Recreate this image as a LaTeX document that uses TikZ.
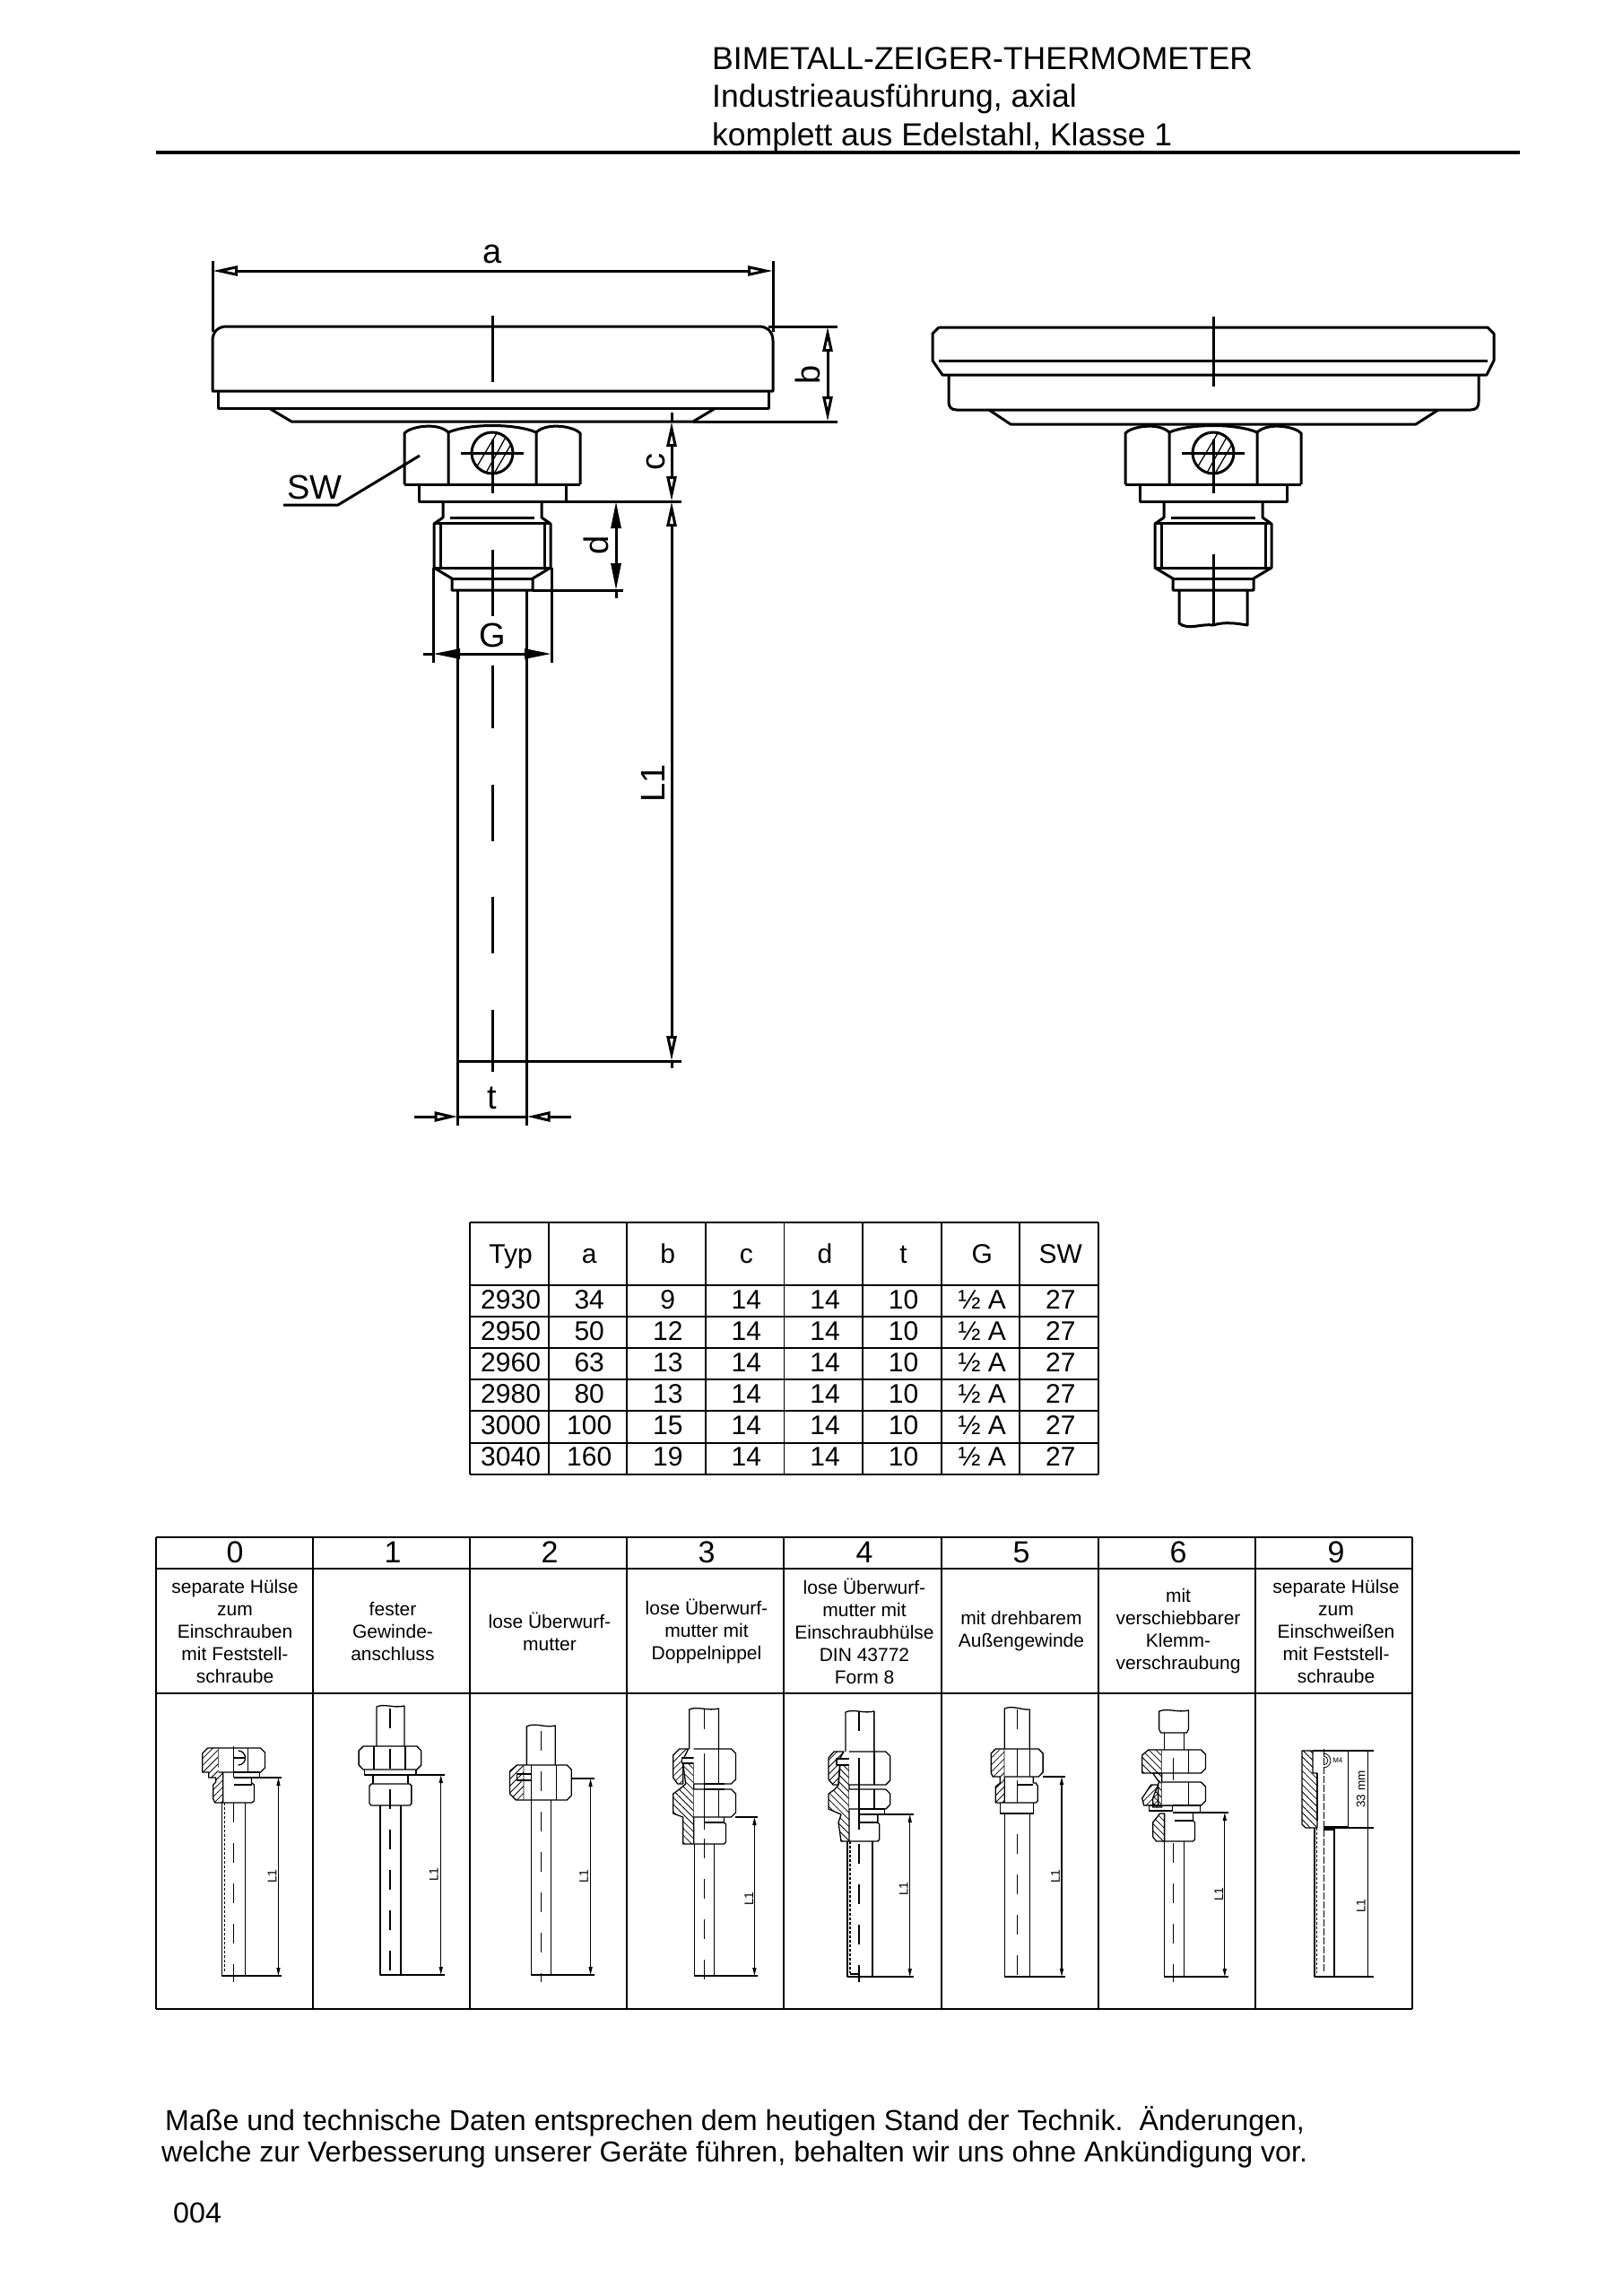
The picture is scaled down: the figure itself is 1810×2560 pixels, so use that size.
\documentclass[tikz,border=0pt]{standalone}
\usepackage{fontspec}
\setmainfont{Liberation Sans}
\usetikzlibrary{arrows.meta,patterns.meta}
\tikzstyle{none}=[inner sep=0pt]
\tikzstyle{title}=[inner sep=0pt,anchor=base west,font=\fontsize{35.5}{35.5}\selectfont]
\tikzstyle{foot}=[inner sep=0pt,anchor=base west,font=\fontsize{32.2}{32.2}\selectfont]
\tikzstyle{dimlabel}=[inner sep=0pt,font=\fontsize{38}{38}\selectfont]
\tikzstyle{cell}=[inner sep=0pt,anchor=base,font=\fontsize{30}{30}\selectfont]
\tikzstyle{digit}=[inner sep=0pt,font=\fontsize{34}{34}\selectfont]
\tikzstyle{caption}=[inner sep=0pt,align=center,font=\fontsize{21}{25}\selectfont]
\tikzstyle{tiny}=[inner sep=0pt,rotate=90,font=\fontsize{14}{14}\selectfont]
\tikzstyle{heavy}=[line width=3pt,line join=round]
\tikzstyle{fine}=[line width=1.3pt,line join=round]
\tikzstyle{gridline}=[line width=1.8pt]
\tikzstyle{dimopen}=[heavy,{Triangle[open,length=28pt,width=11pt]}-{Triangle[open,length=28pt,width=11pt]}]
\tikzstyle{dimfull}=[heavy,{Triangle[length=30pt,width=11pt]}-{Triangle[length=30pt,width=11pt]}]
\tikzstyle{dimtiny}=[fine,{Triangle[length=9pt,width=4pt]}-{Triangle[length=9pt,width=4pt]}]
\tikzstyle{axis}=[fine,dash pattern=on 22pt off 23pt]
\tikzstyle{hatchne}=[fine,pattern={Lines[angle=45,distance=5.5pt,line width=.8pt]}]
\tikzstyle{hatchnw}=[fine,pattern={Lines[angle=-45,distance=5.5pt,line width=.8pt]}]
\newcommand{\nutright}[5]{%
	\draw[fine,fill=white] (#1,#4) -- (#3-5,#4) -- (#3,#4+5) -- (#3,#5-5) -- (#3-5,#5) -- (#1,#5);
	\draw[fine] (#2,#4) -- (#2,#5);
}
\newcommand{\dimcell}[5]{%
	\draw[dimtiny] (#1,#2) -- (#1,#3);
	\draw[fine] (#4,#2) -- (#1+4,#2);
	\draw[fine] (#5,#3) -- (#1+4,#3);
}
\tikzset{
	headpic/.pic={
		\draw[heavy] (-98,540) -- (-98,483) .. controls (-92,476) and (-62,470) .. (-49,482) -- (-49,540);
		\draw[heavy] (98,540) -- (98,483) .. controls (92,476) and (62,470) .. (49,482) -- (49,540);
		\draw[heavy] (-49,482) .. controls (-25,472) and (25,472) .. (49,482);
		\draw[heavy] (-98,540) -- (98,540);
		\draw[heavy] (-82,540) -- (-82,559) -- (82,559) -- (82,540);
		\draw[heavy] (-55,559) -- (-55,577) -- (-65,584) -- (-65,633) -- (-45,645) -- (-45,658) -- (45,658) -- (45,645) -- (65,633) -- (65,584) -- (55,577) -- (55,559);
		\draw[heavy] (-47,577) -- (47,577);
		\draw[heavy] (-65,583) -- (65,583);
		\draw[heavy] (-65,633) -- (65,633);
		\draw[heavy] (-45,645) -- (45,645);
		\draw[heavy] (-58,584) -- (-58,633);
		\draw[heavy] (58,584) -- (58,633);
		\draw[heavy] (0,505) ellipse (23 and 23);
		\begin{scope}
			\clip (0,505) ellipse (23 and 23);
			\draw[fine] (-8,529) -- (18,482);
			\draw[fine] (-17,520) -- (8,478);
			\draw[fine] (-2,535) -- (24,490);
		\end{scope}
		\draw[heavy] (-35,505) -- (35,505);
		\draw[heavy] (0,490) -- (0,550);
	}
}
\begin{document}
\begin{tikzpicture}[x=1pt,y=-1pt]
	\useasboundingbox (0,0) rectangle (1810,2560);
	\fill[white] (0,0) rectangle (1810,2560);
	\node [style=title] (title1) at (794,77) {BIMETALL-ZEIGER-THERMOMETER};
	\node [style=title] (title2) at (794,119) {Industrieausführung, axial};
	\node [style=title] (title3) at (794,162) {komplett aus Edelstahl, Klasse 1};
	\draw[line width=3.2pt] (174,170) -- (1695,170);

	\draw[heavy] (237,436) -- (237,380) .. controls (237,370) and (243,364) .. (253,364) -- (846,364) .. controls (856,364) and (862,370) .. (862,380) -- (862,436) -- cycle;
	\draw[heavy] (243.5,436) -- (243.5,455) -- (857,455) -- (857,436);
	\draw[heavy] (300,455) -- (325,470) -- (773,470) -- (798,455);
	\draw[heavy] (549,352) -- (549,426);
	\draw[heavy] (237,291) -- (237,370);
	\draw[heavy] (862,291) -- (862,370);
	\draw[dimopen] (237,302) -- (862,302);
	\node [style=dimlabel] (labela) at (549,283) {a};
	\draw[heavy] (857,364) -- (934,364);
	\draw[heavy] (773,470) -- (934,470);
	\draw[dimopen] (923,364) -- (923,470);
	\node [style=dimlabel,rotate=90] (labelb) at (901,418) {b};
	\pic at (549,0) {headpic};
	\draw[heavy] (468,508) -- (377,563) -- (316,563);
	\node [style=dimlabel] (labelsw) at (351,543) {SW};
	\draw[heavy] (631,559) -- (760,559);
	\draw[heavy] (749,460) -- (749,470);
	\draw[dimopen] (749,470) -- (749,559);
	\node [style=dimlabel,rotate=90] (labelc) at (731,515) {c};
	\draw[dimopen] (749,559) -- (749,1183);
	\draw[heavy] (749,1183) -- (749,1191);
	\node [style=dimlabel,rotate=90] (labell) at (728,873) {L1};
	\draw[heavy] (594,658) -- (695,658);
	\draw[dimfull] (687,559) -- (687,658);
	\draw[heavy] (687,658) -- (687,667);
	\node [style=dimlabel,rotate=90] (labeld) at (665,608) {d};
	\draw[heavy] (510.5,658) -- (510.5,1255);
	\draw[heavy] (587.5,658) -- (587.5,1255);
	\draw[heavy] (510.5,1183) -- (760,1183);
	\draw[heavy] (483,633) -- (483,739);
	\draw[heavy] (615,633) -- (615,739);
	\draw[dimfull] (483,729) -- (615,729);
	\draw[heavy] (472,729) -- (483,729);
	\node [style=dimlabel] (labelg) at (549,708) {G};
	\draw[heavy] (510.5,1245) -- (587.5,1245);
	\draw[heavy,-{Triangle[open,length=26pt,width=11pt]}] (462,1245) -- (510.5,1245);
	\draw[heavy,-{Triangle[open,length=26pt,width=11pt]}] (637,1245) -- (587.5,1245);
	\node [style=dimlabel] (labelt) at (549,1224) {t};
	\foreach \ya/\yb in {613/687,742/812,875/938,1000/1063,1126/1195}
		\draw[heavy] (549,\ya) -- (549,\yb);

	\draw[heavy] (1047,365) -- (1659,365) -- (1666,372) -- (1666,402) -- (1658,418) -- (1051,418) -- (1040,402) -- (1040,372) -- (1047,365);
	\draw[heavy] (1047,402) -- (1659,402);
	\draw[heavy] (1058,418) -- (1058,448) .. controls (1058,454) and (1061,457) .. (1067,457) -- (1640,457) .. controls (1646,457) and (1649,454) .. (1649,448) -- (1649,418);
	\draw[heavy] (1103,457) -- (1127,473) -- (1579,473) -- (1604,457);
	\draw[heavy] (1353,353) -- (1353,431);
	\pic at (1353,0) {headpic};
	\draw[heavy] (1315,658) -- (1315,695) .. controls (1325,703) and (1340,695) .. (1353,697) .. controls (1365,693) and (1380,695) .. (1391,697) -- (1391,658);
	\draw[heavy] (1353,618) -- (1353,697);

	\foreach \x in {524,611.6,699.2,787,874.5,962,1049.7,1137.3,1225}
		\draw[gridline] (\x,1363) -- (\x,1644);
	\foreach \y in {1363,1433,1468,1503,1538,1573,1609,1644}
		\draw[gridline] (524,\y) -- (1225,\y);
	\foreach \t [count=\c] in {Typ,a,b,c,d,t,G,SW}
		\node [style=cell] (head\c) at (482+87.6*\c,1408) {\t};
	\foreach \r [count=\j] in {{2930,34,9,14,14,10,½ A,27},{2950,50,12,14,14,10,½ A,27},{2960,63,13,14,14,10,½ A,27},{2980,80,13,14,14,10,½ A,27},{3000,100,15,14,14,10,½ A,27},{3040,160,19,14,14,10,½ A,27}}
		\foreach \t [count=\c] in \r
			\node [style=cell] (row\j col\c) at (482+87.6*\c,1424+35.1*\j) {\t};

	\foreach \x in {174,349,524,699,874,1050,1225,1400,1575}
		\draw[gridline] (\x,1714) -- (\x,2240);
	\foreach \y in {1714,1749,1888,2240}
		\draw[gridline] (174,\y) -- (1575,\y);
	\foreach \t/\x in {0/262,1/438,2/613,3/788,4/964,5/1139,6/1314,9/1490}
		\node [style=digit] (num\t) at (\x,1731) {\t};
	\node [style=caption] (cap0) at (262,1819) {separate Hülse\\zum\\Einschrauben\\mit Feststell-\\schraube};
	\node [style=caption] (cap1) at (438,1819) {fester\\Gewinde-\\anschluss};
	\node [style=caption] (cap2) at (613,1819) {lose Überwurf-\\mutter};
	\node [style=caption] (cap3) at (788,1819) {lose Überwurf-\\mutter mit\\Doppelnippel};
	\node [style=caption] (cap4) at (964,1819) {lose Überwurf-\\mutter mit\\Einschraubhülse\\DIN 43772\\Form 8};
	\node [style=caption] (cap5) at (1139,1819) {mit drehbarem\\Außengewinde};
	\node [style=caption] (cap6) at (1314,1819) {mit\\verschiebbarer\\Klemm-\\verschraubung};
	\node [style=caption] (cap9) at (1490,1819) {separate Hülse\\zum\\Einschweißen\\mit Feststell-\\schraube};

	\begin{scope}[x=0.9961pt,xshift=0.68pt]
	\draw[hatchne] (232,1949) -- (244,1949) -- (244,1970) -- (249,1976) -- (249,2010) -- (240,2010) -- (238,2006) -- (238,1990) -- (241,1987) -- (241,1982) -- (233,1982) -- (233,1976) -- (226,1976) -- (226,1955) -- cycle;
	\nutright{244}{277}{296}{1949}{1976}
	\draw[fine] (261,1947) -- (261,1982);
	\draw[fine] (266,1952) arc (-90:90:8);
	\draw[fine] (261,1960) -- (274,1960);
	\draw[fine] (261,1976) -- (290,1976) -- (290,1982) -- (261,1982);
	\draw[fine] (281,1982) -- (281,1988) -- (284,1990) -- (284,2008) -- (281,2010) -- (249,2010);
	\draw[line width=2pt] (261,1990) -- (281,1990);
	\draw[fine] (274,2010) -- (274,2203) -- (248,2203) -- (248,2010);
	\draw[fine,densely dashed] (250.5,2010) -- (250.5,2200);
	\draw[axis] (261,2010) -- (261,2210);
	\dimcell{311}{1982}{2203}{290}{274}
	\node [style=tiny] (l0) at (304,2092) {L1};

	\draw[fine] (421,1973) -- (421,1903) .. controls (430,1899) and (440,1905) .. (452,1902) -- (452,1973);
	\draw[fine] (407.5,1973) -- (407.5,1979) -- (465,1979) -- (465,1973);
	\draw[fine,fill=white] (406,1947) -- (466,1947) -- (471,1952) -- (471,1968) -- (466,1973) -- (406,1973) -- (401,1968) -- (401,1952) -- cycle;
	\draw[fine] (418,1947) -- (418,1973);
	\draw[fine] (453,1947) -- (453,1973);
	\draw[fine] (417,1979) -- (417,1989);
	\draw[fine] (456,1979) -- (456,1989);
	\draw[fine] (413,1991) -- (415,1989) -- (458,1989) -- (460,1991) -- (460,2011) -- (458,2013) -- (415,2013) -- (413,2011) -- cycle;
	\draw[fine] (425,2013) -- (425,2202) -- (448,2202) -- (448,2013);
	\draw[axis] (436,1905) -- (436,2210);
	\dimcell{493}{1979}{2202}{465}{448}
	\node [style=tiny] (l1) at (485,2090) {L1};

	\draw[fine] (589,1968) -- (589,1925) .. controls (598,1920) and (610,1927) .. (621,1924) -- (621,1968);
	\draw[hatchne] (578,1968) -- (586,1968) -- (586,2007) -- (577,2007) -- (570,2000) -- (570,1975) -- cycle;
	\nutright{586}{622}{639}{1968}{2007}
	\draw[fine] (594,1968) -- (594,2007);
	\draw[fine] (578,1978) rectangle (594,1985);
	\draw[fine] (594,2007) -- (594,2202) -- (616,2202) -- (616,2007);
	\draw[axis] (605,1930) -- (605,2210);
	\dimcell{660.5}{1983}{2202}{639}{616}
	\node [style=tiny] (l2) at (653,2092) {L1};

	\draw[fine] (771,1950) -- (771,1906) .. controls (780,1902) and (792,1908) .. (804,1905) -- (804,1950);
	\draw[axis] (788,1906) -- (788,1950);
	\draw[hatchne] (760,1950) -- (770,1950) -- (764,1962) -- (764,1989) -- (758,1989) -- (753,1982) -- (753,1957) -- cycle;
	\draw[hatchnw] (764,1966) -- (776,1966) -- (776,2056) -- (764,2056) -- (764,2026) -- (753,2022) -- (753,2000) -- (760,1995) -- (767,1989) -- cycle;
	\draw[fine,fill=white] (763,1960) rectangle (788,1966);
	\nutright{776}{804}{823}{1950}{1989}
	\nutright{776}{804}{823}{1995}{2026}
	\draw[line width=2pt] (788,1989) -- (810,1989);
	\draw[line width=2pt] (788,1995) -- (810,1995);
	\draw[line width=2pt] (788,2032) -- (810,2032);
	\draw[fine] (810,2026) -- (810,2032) -- (812,2034) -- (812,2054) -- (810,2056) -- (776,2056);
	\draw[fine] (777,2056) -- (777,2203) -- (799,2203) -- (799,2056);
	\draw[fine] (788,1955) -- (788,2040);
	\draw[axis] (788,2050) -- (788,2210);
	\dimcell{844}{2026}{2203}{823}{799}
	\node [style=tiny] (l3) at (838,2117) {L1};

	\draw[fine] (946,1953) -- (946,1909) .. controls (955,1905) and (967,1911) .. (978,1908) -- (978,1953);
	\draw[axis] (961,1908) -- (961,1953);
	\draw[hatchne] (933,1953) -- (944,1953) -- (940,1960) -- (938,1990) -- (932,1990) -- (927,1984) -- (927,1960) -- cycle;
	\draw[hatchnw] (940,1966) -- (950,1966) -- (950,2053) -- (941,2053) -- (938,2032) -- (941,2023) -- (927,2017) -- (927,2000) -- (934,1995) -- (938,1990) -- cycle;
	\draw[fine,fill=white] (936,1961) rectangle (961,1968);
	\nutright{950}{978}{996}{1953}{1990}
	\nutright{950}{978}{996}{1995}{2017}
	\draw[fine] (961,2017) -- (990,2017) -- (990,2023) -- (961,2023);
	\draw[line width=2pt] (961,2032) -- (982,2032);
	\draw[fine] (982,2023) -- (982,2032) -- (984,2034) -- (984,2051) -- (982,2053) -- (950,2053);
	\draw[fine] (976,2053) -- (976,2204) -- (948,2204) -- (948,2053);
	\draw[fine,densely dashed] (951,2053) -- (951,2200);
	\draw[fine] (951,2201) -- (960,2201);
	\draw[fine] (961,1960) -- (961,2040);
	\draw[axis] (961,2056) -- (961,2210);
	\dimcell{1018}{2023}{2204}{990}{976}
	\node [style=tiny] (l4) at (1011,2106) {L1};

	\draw[fine] (1124,1950) -- (1124,1905) .. controls (1133,1901) and (1144,1907) .. (1152,1906) -- (1152,1950);
	\draw[axis] (1138,1906) -- (1138,1950);
	\draw[hatchne] (1114,1950) -- (1124,1950) -- (1124,2010) -- (1114,2010) -- (1114,1992) -- (1119,1988) -- (1119,1981) -- (1111,1981) -- (1109,1977) -- (1109,1955) -- cycle;
	\nutright{1124}{1152}{1167}{1950}{1981}
	\draw[fine] (1138,1950) -- (1138,1981);
	\draw[fine] (1156,1981) -- (1156,1988) -- (1159,1988) -- (1161,1991) -- (1161,2008) -- (1159,2010) -- (1124,2010);
	\draw[line width=2pt] (1138,1990) -- (1156,1990);
	\draw[fine] (1119,2010) -- (1119,2022) -- (1156,2022) -- (1156,2010);
	\draw[fine] (1124,2022) -- (1124,2204) -- (1152,2204) -- (1152,2022);
	\draw[fine] (1138,1985) -- (1138,2010);
	\draw[axis] (1138,2045) -- (1138,2210);
	\dimcell{1188}{1981}{2204}{1167}{1152}
	\node [style=tiny] (l5) at (1181,2092) {L1};

	\draw[fine] (1297,1908) .. controls (1307,1904) and (1318,1910) .. (1330,1907) -- (1330,1928) -- (1328,1932) -- (1299,1932) -- (1297,1928) -- cycle;
	\draw[fine] (1303,1932) -- (1303,1951);
	\draw[fine] (1325,1932) -- (1325,1951);
	\draw[hatchnw] (1285,1951) -- (1300,1951) -- (1300,1977) -- (1278,1977) -- (1278,1957) -- cycle;
	\draw[hatchnw] (1290,1977) -- (1300,1977) -- (1300,2015) -- (1290,2015) -- (1290,2005) -- (1297,1987) -- cycle;
	\draw[hatchne] (1288,1990) -- (1296,1990) -- (1296,2013) -- (1280,2013) -- (1278,2005) -- cycle;
	\draw[hatchnw] (1298,2022) -- (1303,2022) -- (1303,2053) -- (1294,2053) -- (1290,2048) -- (1290,2032) -- cycle;
	\draw[fine] (1286,2013) rectangle (1312,2019);
	\nutright{1300}{1330}{1349}{1951}{1977}
	\nutright{1300}{1330}{1349}{1987}{2013}
	\draw[fine] (1312,2013) -- (1343,2013) -- (1343,2021) -- (1312,2021);
	\draw[fine] (1335,2021) -- (1335,2030) -- (1337,2032) -- (1337,2051) -- (1335,2053) -- (1303,2053);
	\draw[line width=2pt] (1314,2030) -- (1335,2030);
	\draw[fine] (1303,2053) -- (1303,2204) -- (1325,2204) -- (1325,2053);
	\draw[fine] (1313,1960) -- (1313,1985);
	\draw[axis] (1313,2055) -- (1313,2210);
	\dimcell{1370.5}{2021}{2204}{1343}{1325}
	\node [style=tiny] (l6) at (1364,2112) {L1};

	\draw[hatchnw] (1457,1952) -- (1469,1952) -- (1469,1977) -- (1474,1977) -- (1474,2038) -- (1461,2038) -- (1457,2034) -- cycle;
	\draw[fine] (1469,1952) -- (1537,1952);
	\draw[fine] (1474,1977) -- (1474,2030);
	\draw[fine] (1509,1952) -- (1509,2037);
	\draw[fine] (1481,2037) -- (1509,2037);
	\draw[fine] (1481,2038) -- (1537,2038);
	\draw[fine] (1471,2038) -- (1471,2204) -- (1537,2204);
	\draw[fine,densely dashed] (1473.5,2038) -- (1473.5,2200);
	\draw[fine] (1493,2038) -- (1493,2204);
	\draw[line width=2pt] (1481,2040) -- (1494,2040);
	\draw[line width=.7pt,dash pattern=on 8pt off 2pt] (1481,1950) -- (1481,2200);
	\draw[line width=.8pt] (1481,1955) arc (-90:90:8);
	\draw[line width=.8pt] (1481,1958) arc (-90:90:5);
	\node [style=none,font=\fontsize{8}{8}\selectfont] (m4) at (1497,1963) {M4};
	\draw[fine] (1531,1952) -- (1531,2204);
	\node [style=none,rotate=90,font=\fontsize{13.5}{13.5}\selectfont] (mm33) at (1523,1995) {33 mm};
	\node [style=tiny] (l9) at (1523,2125) {L1};
	\end{scope}

	\node [style=foot] (foot1) at (184,2375) {Maße und technische Daten entsprechen dem heutigen Stand der Technik.\ \ Änderungen,};
	\node [style=foot] (foot2) at (180,2410) {welche zur Verbesserung unserer Geräte führen, behalten wir uns ohne Ankündigung vor.};
	\node [style=foot] (page) at (193,2478) {004};
\end{tikzpicture}
\end{document}
